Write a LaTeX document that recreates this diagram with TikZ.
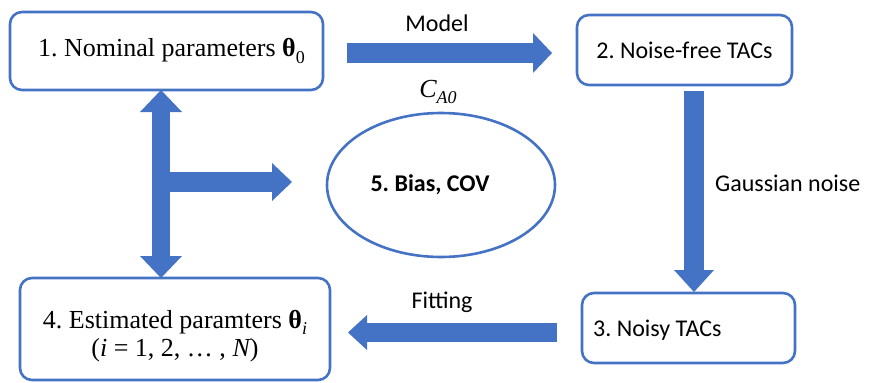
\documentclass[tikz,border=0pt]{standalone}
\usepackage{fontspec}
\setmainfont{Liberation Serif}
\setsansfont{Carlito}
\usetikzlibrary{arrows.meta,shapes.geometric}
\definecolor{pblue}{HTML}{4472C4}
\tikzset{
  every node/.append style={execute at begin node=\frenchspacing},
  boxnode/.style={draw=pblue, line width=2.6pt, rounded corners=12pt, fill=white, inner sep=0pt},
  bigarrow/.style={draw=pblue, line width=20pt, -{Triangle[length=20pt,width=40pt,line width=0pt]}},
  dblarrow/.style={draw=pblue, line width=18pt, {Triangle[length=22pt,width=42pt,line width=0pt]}-{Triangle[length=22pt,width=42pt,line width=0pt]}},
  sanslabel/.style={font=\sffamily\fontsize{24}{28}\selectfont, inner sep=0pt},
  seriftext/.style={font=\rmfamily\fontsize{26}{28}\selectfont}
}
\newcommand{\btheta}{{\bfseries θ}}
\newcommand{\lowsub}[1]{\raisebox{-0.25em}{\fontsize{18}{20}\selectfont #1}}
\begin{document}
\begin{tikzpicture}[x=1pt,y=-1pt]
\useasboundingbox (0,0) rectangle (871,383);
% boxes
\node[boxnode, minimum width=313pt, minimum height=78pt, seriftext] (b1) at (166.5,51) {\hspace*{10pt}1. Nominal parameters \btheta\lowsub{0}};
\node[boxnode, minimum width=215pt, minimum height=70pt, sanslabel] (b2) at (684.5,50) {2. Noise-free TACs};
\node[boxnode, minimum width=213pt, minimum height=70pt] (b3) at (688.5,328) {};
\node[sanslabel, anchor=west] (t3) at (593,330) {3. Noisy TACs};
\node[boxnode, minimum width=310pt, minimum height=102pt] (b4) at (175,329) {};
\node[seriftext, align=center, inner sep=0pt] (t4) at (175,336) {4. Estimated paramters \btheta\lowsub{\itshape i}\\({\itshape i} = 1, 2, … , {\itshape N})};
\node[draw=pblue, line width=2.6pt, ellipse, minimum width=228pt, minimum height=144pt, inner sep=0pt] (b5) at (441,185) {};
\node[sanslabel, font=\sffamily\bfseries\fontsize{24}{28}\selectfont] (t5) at (430,185) {5. Bias, COV};
% arrow end points
\coordinate (m1) at (347,53);
\coordinate (m2) at (552,53);
\coordinate (g1) at (694,91);
\coordinate (g2) at (694,292);
\coordinate (f1) at (557,332.5);
\coordinate (f2) at (348,332.5);
\coordinate (d1) at (161,90);
\coordinate (d2) at (161,278);
\coordinate (h1) at (161,182);
\coordinate (h2) at (292,182);
% arrows
\draw[bigarrow, -{Triangle[length=19pt,width=40pt,line width=0pt]}] (m1) -- (m2);
\draw[bigarrow, -{Triangle[length=22pt,width=40pt,line width=0pt]}] (g1) -- (g2);
\draw[bigarrow, line width=19pt, -{Triangle[length=19pt,width=35pt,line width=0pt]}] (f1) -- (f2);
\draw[dblarrow] (d1) -- (d2);
\draw[bigarrow, -{Triangle[length=20pt,width=38pt,line width=0pt]}] (h1) -- (h2);
% labels
\node[seriftext, inner sep=0pt] (lc) at (438,92) {{\itshape C}\lowsub{\itshape A0}};
\node[sanslabel] (lm) at (437,23) {Model};
\node[sanslabel, anchor=west] (lg) at (715,183) {Gaussian noise};
\node[sanslabel] (lf) at (442,302) {Fitting};
\end{tikzpicture}
\end{document}
